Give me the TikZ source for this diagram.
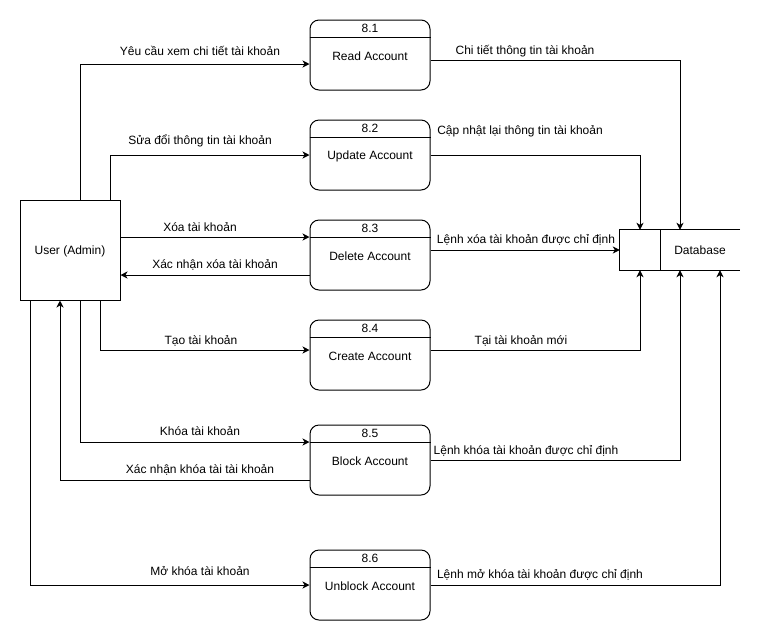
\documentclass[tikz,border=0pt]{standalone}
\usepackage{fontspec}
\setmainfont{Liberation Sans}
\usetikzlibrary{arrows.meta}
\begin{document}
\begin{tikzpicture}[x=1pt,y=-1pt,
  every node/.style={font=\fontsize{12pt}{14pt}\selectfont},
  proc/.style={draw,line width=1pt,rounded corners=9pt,minimum width=120pt,minimum height=70pt,inner sep=0pt},
  ent/.style={draw,line width=1pt,minimum width=100pt,minimum height=100pt,inner sep=0pt},
  lbl/.style={inner sep=0pt,anchor=center},
  flow/.style={line width=1pt,-{Stealth[length=7pt,width=7pt,inset=2pt]}},
  hdr/.style={line width=1pt}]
\useasboundingbox (0,0) rectangle (762,641);
\fill[white] (0,0) rectangle (762,641);

% entity
\node[ent] (u) at (70,250) {};
\node[lbl] (ut) at (70,251) {User (Admin)};

% processes
\node[proc] (p1) at (370,55) {};
\node[proc] (p2) at (370,155) {};
\node[proc] (p3) at (370,255) {};
\node[proc] (p4) at (370,355) {};
\node[proc] (p5) at (370,460) {};
\node[proc] (p6) at (370,585) {};
\foreach \p/\n/\t in {p1/8.1/Read Account,p2/8.2/Update Account,p3/8.3/Delete Account,p4/8.4/Create Account,p5/8.5/Block Account,p6/8.6/Unblock Account}{
  \draw[hdr] ([yshift=-17.5pt]\p.north west) -- ([yshift=-17.5pt]\p.north east);
  \node[lbl] (\p n) at ([yshift=-9pt]\p.north) {\n};
  \node[lbl] (\p t) at ([yshift=-1.5pt]\p.center) {\t};
}

% data store
\node[minimum width=120pt,minimum height=40pt,inner sep=0pt] (db) at (680,250) {};
\draw[line width=1pt] (db.north east) -- (db.north west) -- (db.south west) -- (db.south east);
\draw[line width=1pt] ([xshift=-20pt]db.north) -- ([xshift=-20pt]db.south);
\node[lbl] (dbt) at (700,250) {Database};

% left flows
\draw[flow] ([xshift=10pt]u.north) |- ([yshift=-9pt]p1.west);
\draw[flow] ([xshift=40pt]u.north) |- (p2.west);
\draw[flow] ([yshift=13pt]u.east) -- ([yshift=18pt]p3.west);
\draw[flow] ([yshift=-20pt]p3.west) -- ([yshift=-25pt]u.east);
\draw[flow] ([xshift=30pt]u.south) |- ([yshift=5pt]p4.west);
\draw[flow] ([xshift=10pt]u.south) |- ([yshift=18pt]p5.west);
\draw[flow] ([yshift=-20pt]p5.west) -| ([xshift=-10pt]u.south);
\draw[flow] ([xshift=-40pt]u.south) |- (p6.west);

% right flows
\draw[flow] ([yshift=-5pt]p1.east) -| (db.north);
\draw[flow] (p2.east) -| ([xshift=-40pt]db.north);
\draw[flow] ([yshift=5pt]p3.east) -- (db.west);
\draw[flow] ([yshift=5pt]p4.east) -| ([xshift=-40pt]db.south);
\draw[flow] (p5.east) -| (db.south);
\draw[flow] (p6.east) -| ([xshift=40pt]db.south);

% labels
\node[lbl] (l1) at (200,51) {Yêu cầu xem chi tiết tài khoản};
\node[lbl] (l2) at (200,141) {Sửa đổi thông tin tài khoản};
\node[lbl] (l3) at (200,227) {Xóa tài khoản};
\node[lbl] (l4) at (215,265) {Xác nhận xóa tài khoản};
\node[lbl] (l5) at (201,341) {Tạo tài khoản};
\node[lbl] (l6) at (200,431) {Khóa tài khoản};
\node[lbl] (l7) at (200,470) {Xác nhận khóa tài tài khoản};
\node[lbl] (l8) at (200,571) {Mở khóa tài khoản};
\node[lbl] (l9) at (525,51) {Chi tiết thông tin tài khoản};
\node[lbl] (l10) at (520,131) {Cập nhật lại thông tin tài khoản};
\node[lbl] (l11) at (526,240) {Lệnh xóa tài khoản được chỉ định};
\node[lbl] (l12) at (521,341) {Tại tài khoản mới};
\node[lbl] (l13) at (526,451) {Lệnh khóa tài khoản được chỉ định};
\node[lbl] (l14) at (540,575) {Lệnh mở khóa tài khoản được chỉ định};
\end{tikzpicture}
\end{document}
